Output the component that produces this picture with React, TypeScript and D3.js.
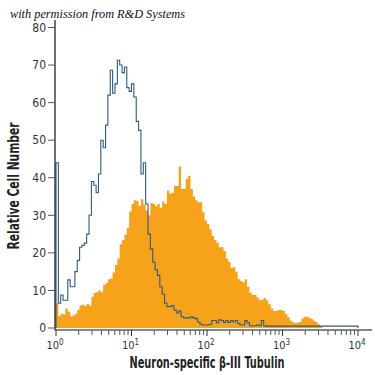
import React from 'react';
import * as d3 from 'd3';

const yTicks = [0, 10, 20, 30, 40, 50, 60, 70, 80];
const xDecades = [0, 1, 2, 3, 4];
const xTitle = 'Neuron-specific β-III Tubulin';
const yTitle = 'Relative Cell Number';
const credit = 'with permission from R&D Systems';

// isotype control (open blue histogram), 128 channels over 4 decades
const isotype = [
  44, 6.6, 8.8, 7.4, 7.4, 12.8, 11, 11, 15, 18,
  21.5, 22, 22.6, 25, 30, 39, 38, 36, 41, 50,
  48, 54, 62, 68.6, 62.5, 65, 71.3, 70, 68, 69.5,
  64, 63, 65, 61.5, 55, 52.6, 41, 44, 33, 25,
  21, 17.5, 15.5, 14, 11, 9, 6.6, 5.7, 5.7, 6,
  4.8, 4, 4.5, 3, 2.7, 2.7, 2.7, 3, 2.7, 2.5,
  1.6, 1.0, 0.8, 0.8, 0.8, 1.0, 2, 2, 1.4, 2.2,
  2.0, 1.5, 2.0, 1.5, 2.0, 1.6, 2.0, 1.2, 0.8, 0.8,
  2.0, 1.4, 0.6, 0.6, 0.6, 0.8, 0.6, 2.0, 0.6, 0.5,
  0.5, 0.5, 0.5, 0.5, 0.5, 0.5, 0.5, 0.5, 0.5, 0.5,
  0.5, 0.5, 0.5, 0.5, 0.5, 0.5, 0.5, 0.5, 0.5, 0.5,
  0.5, 0.5, 0.5, 0.5, 0.5, 0.5, 0.5, 0.5, 0.5, 0.5,
  0.5, 0.5, 0.5, 0.5, 0.5, 0.5, 0.5, 0.5,
];

// anti-beta-III tubulin stained (filled orange histogram)
const stained = [
  6.6, 3.2, 3.8, 3.6, 5.2, 4.3, 3.1, 3.3, 3.8, 4.8,
  6.0, 6.2, 5.9, 6.4, 5.9, 8.3, 9.3, 9.5, 10, 9.5,
  11.5, 12, 13, 13.2, 14.8, 16.8, 18.5, 22.3, 23.4, 24.8,
  26.7, 31, 33, 34, 33.8, 32.5, 34.3, 32.9, 31.3, 30,
  33.3, 33, 32.5, 33, 32, 33.6, 33, 36.6, 35.8, 36,
  37.8, 37.8, 43, 37, 37, 39.7, 40.5, 37, 35, 34,
  33.5, 33.5, 30.8, 28.6, 27.7, 26.3, 24.5, 23.4, 22.7, 21.5,
  21.5, 20.5, 18.5, 17.6, 16, 16.2, 15, 13, 12.5, 12.2,
  13, 11, 9.4, 8.8, 8.8, 8.1, 7.4, 7.5, 8, 7.4,
  6.3, 5.2, 4.5, 4.5, 4.8, 4.8, 4.5, 3.7, 2.9, 2.0,
  1.5, 1.3, 1.3, 1.6, 2.5, 3, 3, 2.7, 2.4, 1.9,
  1.5, 1.0, 0.4, 0, 0, 0, 0, 0, 0, 0,
  0, 0, 0, 0, 0, 0, 0, 0,
];

const NARROW = "'Liberation Sans Narrow', 'DejaVu Sans Condensed', 'Arial Narrow', sans-serif";

export default function App() {
  const W = 375;
  const H = 375;
  const x = d3.scaleLog().domain([1, 1e4]).range([56, 358]);
  const y = d3.scaleLinear().domain([0, 80]).range([328, 27.5]);
  const axisY = 330;
  const n = stained.length;
  const edge = (i: number) => Math.pow(10, (i * 4) / n);

  const stepPath = (vals: number[], close: boolean) => {
    let d = `M${x(edge(0))},${y(0)}`;
    vals.forEach((v, i) => {
      d += `L${x(edge(i))},${y(v)}L${x(edge(i + 1))},${y(v)}`;
    });
    d += `L${x(edge(vals.length))},${y(0)}`;
    if (close) d += 'Z';
    return d;
  };

  const minor: number[] = [];
  for (let dd = 0; dd < 4; dd++) {
    for (let k = 2; k <= 9; k++) minor.push(k * Math.pow(10, dd));
  }

  return (
    <svg width={W} height={H} style={{ position: 'absolute', left: 0, top: 0, background: '#fff' }}>
      <rect x={0} y={0} width={W} height={H} fill="#fff" />
      <text
        x={10}
        y={18}
        fontFamily="'Liberation Serif', 'DejaVu Serif', serif"
        fontStyle="italic"
        fontSize={12.5}
        fill="#111"
        textLength={175}
        lengthAdjust="spacingAndGlyphs"
      >
        {credit}
      </text>

      {/* histograms */}
      <path d={stepPath(stained, true)} fill="#F7A21B" stroke="none" />
      <path d={stepPath(isotype, false)} fill="none" stroke="#2d5b82" strokeWidth={1.1} />

      {/* y axis */}
      <line x1={55} x2={55} y1={20} y2={axisY} stroke="#111" strokeWidth={1.2} />
      {yTicks.map((t) => (
        <g key={t}>
          <line x1={48} x2={55} y1={y(t)} y2={y(t)} stroke="#555" strokeWidth={1} />
          <text
            x={46}
            y={y(t) + 4.2}
            textAnchor="end"
            fontFamily={NARROW}
            fontSize={12}
            fill="#333"
          >
            {t}
          </text>
        </g>
      ))}

      {/* x axis */}
      <line x1={55} x2={372} y1={axisY} y2={axisY} stroke="#111" strokeWidth={1.2} />
      {minor.map((m) => (
        <line key={m} x1={x(m)} x2={x(m)} y1={axisY} y2={axisY + 5} stroke="#555" strokeWidth={1} />
      ))}
      {xDecades.map((e) => (
        <g key={e}>
          <line x1={x(Math.pow(10, e))} x2={x(Math.pow(10, e))} y1={axisY} y2={axisY + 6} stroke="#333" strokeWidth={1} />
          <text
            x={x(Math.pow(10, e)) - 1}
            y={349}
            textAnchor="middle"
            fontFamily={NARROW}
            fontSize={11}
            fill="#333"
          >
            10
            <tspan dy={-4} fontSize={8}>
              {e}
            </tspan>
          </text>
        </g>
      ))}

      <text
        x={207}
        y={368}
        textAnchor="middle"
        fontFamily={NARROW}
        fontWeight="bold"
        fontSize={15}
        fill="#222"
        textLength={155}
        lengthAdjust="spacingAndGlyphs"
      >
        {xTitle}
      </text>
      <text
        transform={`translate(19,186) rotate(-90)`}
        textAnchor="middle"
        fontFamily={NARROW}
        fontWeight="bold"
        fontSize={15}
        fill="#222"
        textLength={127}
        lengthAdjust="spacingAndGlyphs"
      >
        {yTitle}
      </text>
    </svg>
  );
}
